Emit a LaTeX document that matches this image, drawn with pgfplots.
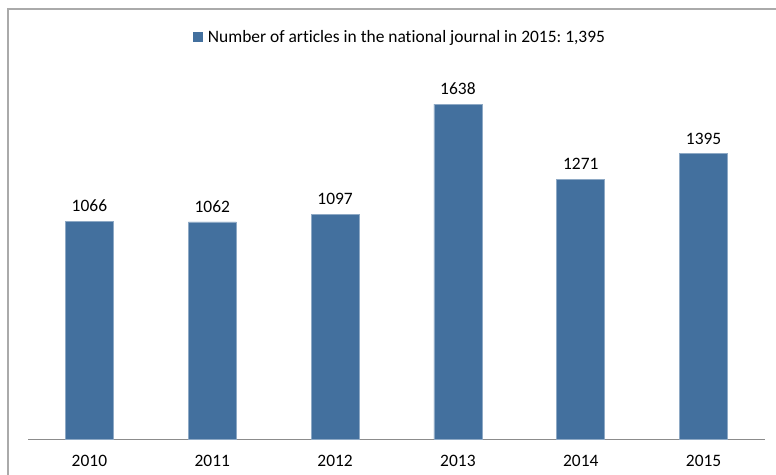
\documentclass[border=0pt]{standalone}
\usepackage{pgfplots}
\pgfplotsset{compat=1.18}
\usepackage{fontspec}
\setmainfont{Carlito}[Ligatures=NoCommon]
\frenchspacing
\definecolor{barblue}{RGB}{67,112,158}
\definecolor{framegray}{RGB}{170,170,170}
\definecolor{axisgray}{RGB}{140,140,140}
\begin{document}
\begin{tikzpicture}[x=1bp,y=1bp]
\useasboundingbox (0,0) rectangle (776,475);
\begin{scope}
\clip (0,0) rectangle (776,475);
\draw[framegray, line width=1.2bp] (8,-5) -- (8,466) -- (790,466);
\end{scope}
\begin{axis}[
  at={(28bp,36bp)}, anchor=south west,
  scale only axis, width=737bp, height=368bp,
  xmin=-0.5, xmax=5.5, ymin=0, ymax=1800,
  axis y line=none, axis x line*=bottom,
  axis line style={axisgray, line width=0.9bp},
  xtick=data, xticklabels={2010,2011,2012,2013,2014,2015},
  major tick length=0pt,
  xticklabel style={font=\fontsize{17.5}{21}\selectfont, yshift=-13bp},
  /pgf/number format/assume math mode=true,
  /pgf/number format/set thousands separator={},
  nodes near coords,
  nodes near coords style={font=\fontsize{17.5}{21}\selectfont, yshift=6bp},
  ybar, bar width=48bp,
  legend style={at={(0.505,1.092)}, anchor=center, draw=none, font=\fontsize{17.5}{21}\selectfont, inner sep=0pt},
  legend image code/.code={\fill[barblue] (0bp,-4.5bp) rectangle (9bp,4.5bp);},
  legend cell align=left,
  clip=false,
]
\addplot[fill=barblue, draw=barblue!60!white, line width=0.6bp] coordinates {(0,1066) (1,1062) (2,1097) (3,1638) (4,1271) (5,1395)};
\addlegendentry{\hspace{3bp}Number of articles in the national journal in 2015:\ 1,395}
\end{axis}
\end{tikzpicture}
\end{document}
